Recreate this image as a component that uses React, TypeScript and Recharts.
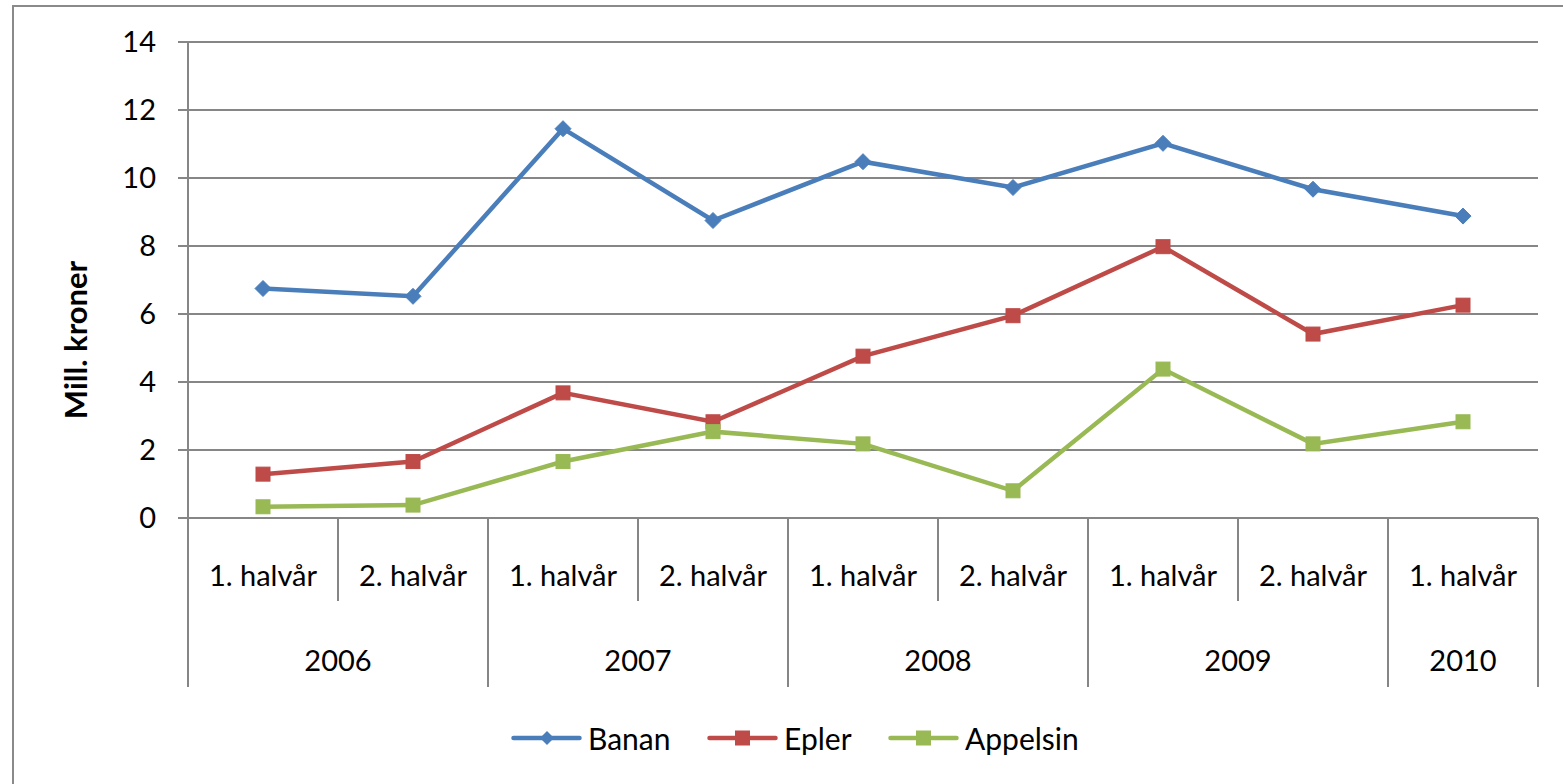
import React from 'react';
import { LineChart, Line, XAxis, YAxis, CartesianGrid, Legend } from 'recharts';

const halfYears = ['1. halvår', '2. halvår', '1. halvår', '2. halvår', '1. halvår', '2. halvår', '1. halvår', '2. halvår', '1. halvår'];
const years = ['2006', '2006', '2007', '2007', '2008', '2008', '2009', '2009', '2010'];
const banan = [6.75, 6.52, 11.45, 8.75, 10.48, 9.72, 11.02, 9.67, 8.88];
const epler = [1.29, 1.66, 3.68, 2.83, 4.76, 5.95, 7.98, 5.41, 6.26];
const appelsin = [0.33, 0.38, 1.66, 2.54, 2.18, 0.8, 4.38, 2.18, 2.83];
const yTicks = [0, 2, 4, 6, 8, 10, 12, 14];

const seriesDefs = [
  { key: 'Banan', color: '#4A7EBB', shape: 'diamond' },
  { key: 'Epler', color: '#BE4B48', shape: 'square' },
  { key: 'Appelsin', color: '#98B954', shape: 'square' },
];

const data = halfYears.map((h, i) => ({
  cat: `${h}|${years[i]}|${i}`,
  half: h,
  year: years[i],
  Banan: banan[i],
  Epler: epler[i],
  Appelsin: appelsin[i],
}));

const FONT = 'Lato, "Liberation Sans", Arial, sans-serif';
const FS = 29;
const GRID = '#868686';

const makeDot = (color: string, shape: string) => (props: any) => {
  const { cx, cy, index } = props;
  if (cx == null || cy == null) return <g key={index} />;
  if (shape === 'diamond') {
    const r = 8;
    return (
      <polygon
        key={index}
        points={`${cx},${cy - r} ${cx + r},${cy} ${cx},${cy + r} ${cx - r},${cy}`}
        fill={color}
        stroke={color}
        strokeWidth={1}
      />
    );
  }
  const s = 14;
  return <rect key={index} x={cx - s / 2} y={cy - s / 2} width={s} height={s} fill={color} stroke={color} strokeWidth={1} />;
};

const XTick = (props: any) => {
  const { x, y, payload, index, width } = props;
  const n = halfYears.length;
  const band = width ? width / n : 150;
  const i = payload && typeof payload.index === 'number' ? payload.index : index;
  const yr = years[i];
  const isYearStart = i === 0 || years[i - 1] !== yr;
  let count = 0;
  for (let k = i; k < n && years[k] === yr; k++) count++;
  const isLast = i === n - 1;
  return (
    <g>
      <line x1={x - band / 2} x2={x - band / 2} y1={y} y2={y + (isYearStart ? 169 : 83)} stroke={GRID} strokeWidth={2} />
      {isLast && <line x1={x + band / 2} x2={x + band / 2} y1={y} y2={y + 169} stroke={GRID} strokeWidth={2} />}
      <text x={x} y={y + 56} textAnchor="middle" dominantBaseline="central" fontSize={FS} fontFamily={FONT} fill="#000">
        {halfYears[i]}
      </text>
      {isYearStart && (
        <text x={x + ((count - 1) * band) / 2} y={y + 141} textAnchor="middle" dominantBaseline="central" fontSize={FS} fontFamily={FONT} fill="#000">
          {yr}
        </text>
      )}
    </g>
  );
};

const YTitle = (props: any) => {
  const vb = props.viewBox || { x: 0, y: 42, width: 188, height: 476 };
  const cx = vb.x + 75;
  const cy = vb.y + vb.height / 2 + 60;
  return (
    <text
      x={cx}
      y={cy}
      transform={`rotate(-90 ${cx} ${cy})`}
      textAnchor="middle"
      dominantBaseline="central"
      fontSize={31}
      fontWeight="bold"
      fontFamily={FONT}
      fill="#000"
    >
      Mill. kroner
    </text>
  );
};

const legendItemWidths = [196, 181, 200];

const LegendContent = () => (
  <div
    style={{
      height: 97,
      display: 'flex',
      alignItems: 'center',
      paddingLeft: 511,
      paddingTop: 4,
      boxSizing: 'border-box',
      fontFamily: FONT,
      fontSize: 30,
      color: '#000',
    }}
  >
    {seriesDefs.map((s, i) => (
      <div key={s.key} style={{ display: 'flex', alignItems: 'center', width: legendItemWidths[i] }}>
        <svg width={71} height={20} style={{ display: 'block' }}>
          <line x1={2.5} x2={68.5} y1={10} y2={10} stroke={s.color} strokeWidth={4.5} strokeLinecap="round" />
          {s.shape === 'diamond' ? (
            <polygon points="36,3 43,10 36,17 29,10" fill={s.color} />
          ) : (
            <rect x={28} y={2.5} width={15} height={15} fill={s.color} />
          )}
        </svg>
        <span style={{ marginLeft: 6 }}>{s.key}</span>
      </div>
    ))}
  </div>
);

export default function App() {
  return (
    <div style={{ position: 'fixed', left: 0, top: 0, width: 1563, height: 784, overflow: 'hidden', background: '#fff' }}>
      <div
        style={{
          position: 'absolute',
          left: 12,
          top: 5,
          width: 1600,
          height: 820,
          borderLeft: '2px solid #8a8a8a',
          borderTop: '2px solid #8a8a8a',
        }}
      />
      <div style={{ position: 'absolute', left: 0, top: 0 }}>
        <LineChart width={1563} height={784} data={data} margin={{ top: 42, right: 25, left: 0, bottom: 0 }}>
          <CartesianGrid vertical={false} stroke={GRID} strokeWidth={2} />
          <XAxis
            dataKey="cat"
            interval={0}
            padding={{ left: 75, right: 75 }}
            height={169}
            tickSize={0}
            tickMargin={0}
            tickLine={false}
            axisLine={{ stroke: GRID, strokeWidth: 2 }}
            tick={<XTick />}
          />
          <YAxis
            domain={[0, 14]}
            ticks={yTicks}
            width={188}
            tickSize={10}
            tickMargin={22}
            axisLine={{ stroke: GRID, strokeWidth: 2 }}
            tickLine={{ stroke: GRID, strokeWidth: 2 }}
            tick={{ fontSize: FS, fill: '#000', fontFamily: FONT }}
            label={{ content: <YTitle /> }}
          />
          <Legend verticalAlign="bottom" height={97} content={<LegendContent />} />
          {seriesDefs.map((s) => (
            <Line
              key={s.key}
              type="linear"
              dataKey={s.key}
              stroke={s.color}
              strokeWidth={4.5}
              dot={makeDot(s.color, s.shape)}
              activeDot={false}
              isAnimationActive={false}
            />
          ))}
        </LineChart>
      </div>
    </div>
  );
}
